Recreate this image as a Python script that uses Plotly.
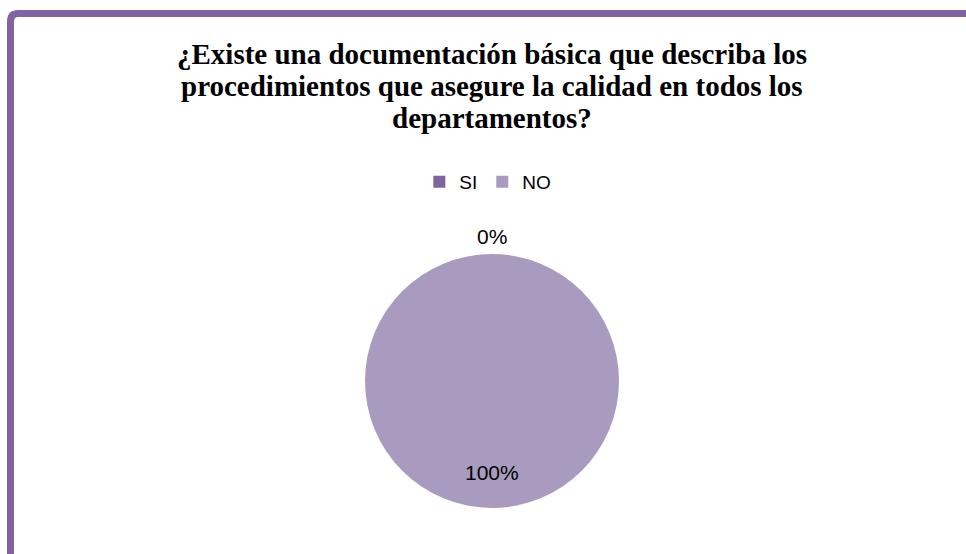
import math
import plotly.graph_objects as go

labels = ["SI", "NO"]
values = [0, 100]
colors = ["#7E659F", "#A99BBF"]
title_lines = ["¿Existe una documentación básica que describa los",
               "procedimientos que asegure la calidad en todos los",
               "departamentos?"]

W, H = 966, 554
cx, cy, r = 492, 381, 127  # pie centre / radius in pixels

fig = go.Figure()
fig.add_trace(go.Pie(
    labels=labels, values=values, sort=False, direction="clockwise", rotation=0,
    marker=dict(colors=colors, line=dict(width=0)),
    textinfo="none", hoverinfo="label+percent",
    domain=dict(x=[(cx - r) / W, (cx + r) / W], y=[(H - cy - r) / H, (H - cy + r) / H]),
    showlegend=True,
))

# percentage labels, placed at each slice's mid-angle (Excel style)
total = sum(values)
cum = 0
annotations = []
for lab, v in zip(labels, values):
    frac = v / total
    mid = (cum + frac / 2) * 2 * math.pi
    cum += frac
    dist = r * 1.14 if frac < 0.05 else r * 0.72
    px = cx + dist * math.sin(mid)
    py = cy - dist * math.cos(mid)
    annotations.append(dict(
        x=px / W, y=(H - py) / H, xref="paper", yref="paper",
        text=f"{round(frac * 100)}%", showarrow=False,
        font=dict(family="Liberation Sans, Arial", size=21, color="#000000"),
        xanchor="center", yanchor="middle"))

for i, line in enumerate(title_lines):
    annotations.append(dict(
        x=491.5 / W, y=(H - (54 + 32 * i)) / H, xref="paper", yref="paper",
        text=f"<b>{line}</b>", showarrow=False,
        font=dict(family="Liberation Serif, Times New Roman", size=29, color="#000000"),
        xanchor="center", yanchor="middle"))

border = "M 0.01087,-0.02 L 0.01087,0.9612 Q 0.01087,0.9756 0.01915,0.9756 L 1.02,0.9756"

fig.update_layout(
    width=W, height=H, margin=dict(l=0, r=0, t=0, b=0),
    paper_bgcolor="#FFFFFF", plot_bgcolor="#FFFFFF",
    annotations=annotations,
    shapes=[dict(type="path", path=border, xref="paper", yref="paper",
                 line=dict(color="#8064A2", width=7))],
    legend=dict(orientation="h", x=0.505, xanchor="center", y=(H - 182) / H, yanchor="middle",
                font=dict(family="Liberation Sans, Arial", size=19, color="#000000"),
                itemwidth=30, tracegroupgap=0, bgcolor="rgba(0,0,0,0)"),
)

fig.write_html("out.html")
